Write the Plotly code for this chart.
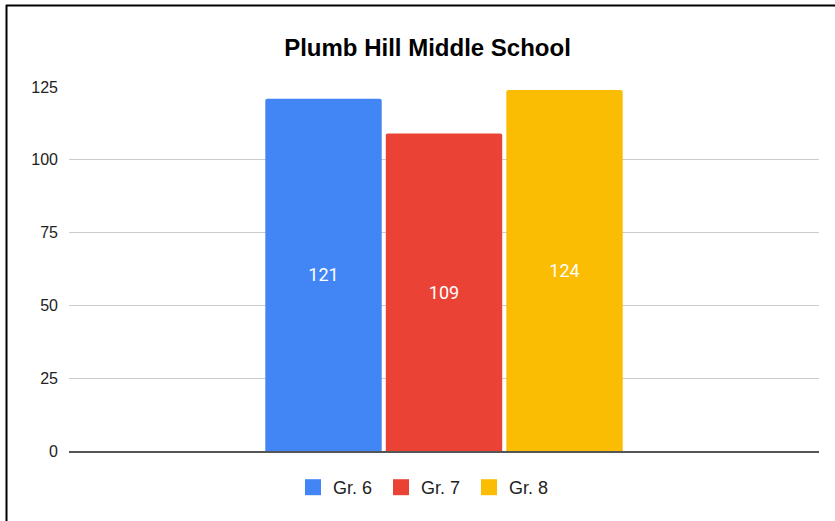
import plotly.graph_objects as go

categories = [""]
series_names = ["Gr. 6", "Gr. 7", "Gr. 8"]
series_values = [[121], [109], [124]]
colors = ["#4285f4", "#ea4335", "#fbbc04"]
y_ticks = [0, 25, 50, 75, 100, 125]

W, H = 835, 521
L, R, T, B = 69, 16, 87, 70
pw, ph = W - L - R, H - T - B

def px_x(px):
    return (px - L) / pw

def px_y(py):
    return (H - B - py) / ph

fig = go.Figure()
for name, vals, c in zip(series_names, series_values, colors):
    fig.add_trace(go.Bar(
        x=categories, y=vals, name=name, marker_color=c,
        marker_line_width=0, showlegend=False,
        text=[str(v) for v in vals], textposition="inside",
        insidetextanchor="middle",
        textfont=dict(color="white", size=18, family="Roboto"),
    ))
# legend entries (square swatches like the original)
for name, c in zip(series_names, colors):
    fig.add_trace(go.Scatter(
        x=[None], y=[None], mode="markers", name=name,
        marker=dict(symbol="square", size=16, color=c),
    ))

fig.update_layout(
    width=W, height=H,
    margin=dict(l=L, r=R, t=T, b=B),
    paper_bgcolor="white", plot_bgcolor="white",
    barmode="group", bargap=0.518, bargroupgap=0.034,
    barcornerradius=2,
    title=dict(text="<b>Plumb Hill Middle School</b>", x=427.5 / W,
               xanchor="center", y=1 - 47.5 / H, yanchor="middle",
               font=dict(family="Liberation Sans, Arial", size=24, color="#000")),
    font=dict(family="Liberation Sans, Arial", size=16, color="#222"),
    showlegend=True,
    legend=dict(orientation="h", x=px_x(425), xanchor="center",
                y=px_y(487.5), yanchor="middle", itemsizing="trace",
                entrywidth=43, entrywidthmode="pixels",
                font=dict(family="Liberation Sans, Arial", size=18, color="#222")),
    xaxis=dict(showticklabels=False, showgrid=False, showline=True,
               linecolor="#555", linewidth=2, ticks=""),
    yaxis=dict(range=[0, 125], tickvals=y_ticks, showgrid=True,
               gridcolor="#cccccc", gridwidth=1, zeroline=False,
               ticks="", ticklabelstandoff=10,
               tickfont=dict(family="Liberation Sans, Arial", size=16, color="#222")),
    shapes=[
        dict(type="line", xref="paper", yref="paper",
             x0=px_x(6), x1=px_x(850), y0=px_y(5.5), y1=px_y(5.5),
             line=dict(color="black", width=2)),
        dict(type="line", xref="paper", yref="paper",
             x0=px_x(6.5), x1=px_x(6.5), y0=px_y(5), y1=px_y(540),
             line=dict(color="black", width=2)),
    ],
)

fig.write_html("out.html", config={"displayModeBar": False},
               post_script="document.body.style.margin='0';document.body.style.overflow='hidden';")
